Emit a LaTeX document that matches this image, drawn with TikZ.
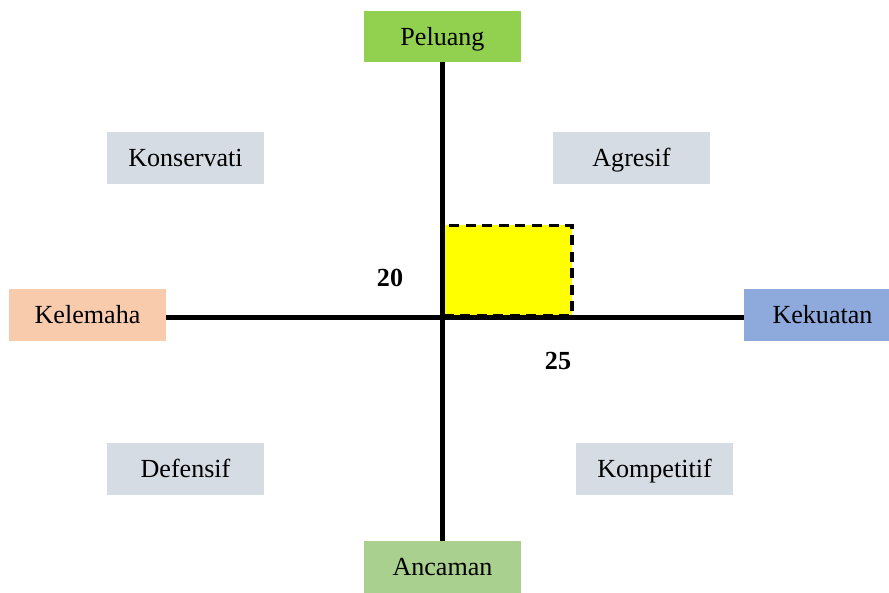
\documentclass[tikz,border=0pt]{standalone}
\usepackage{fontspec}
\setmainfont{Liberation Serif}
\usepackage{tikz}
\usetikzlibrary{positioning}
\definecolor{hijau}{HTML}{92D050}
\definecolor{hijaumuda}{HTML}{A9D08E}
\definecolor{oranye}{HTML}{F8CBAD}
\definecolor{biru}{HTML}{8EA9DB}
\definecolor{abu}{HTML}{D6DCE4}
\definecolor{kuning}{HTML}{FFFF00}

\begin{document}
\begin{tikzpicture}[
		x=0.46pt, y=-0.46pt,
		every node/.style={font=\fontsize{12}{14}\selectfont},
		kotak/.style = {rectangle, minimum width=72.2pt, minimum height=23.5pt, inner sep=0pt, text height=7.9pt, text depth=0pt, align=center},
		kuadran/.style = {kotak, fill=abu},
		area/.style = {draw, dash pattern=on 4.6pt off 3pt, line width=1.6pt, fill=kuning, minimum width=58.9pt, minimum height=41.4pt, inner sep=0pt},
		sumbu/.style = {draw, line width=2.3pt},
		angka/.style = {font=\fontsize{12}{14}\selectfont\bfseries}
	]
	\useasboundingbox (0,0) rectangle (889,592);

	% Nodos
	\coordinate (pusat) at (442,317);
	\node [kotak, fill=hijau] (peluang) at (442.5,36.5) {Peluang};
	\node [kotak, fill=hijaumuda] (ancaman) at (442.5,567) {Ancaman};
	\node [kotak, fill=oranye] (kelemahan) at (87.5,315) {Kelemaha};
	\node [kotak, fill=biru] (kekuatan) at (822.5,315) {Kekuatan};
	\node [kuadran] (konservatif) at (185.5,158) {Konservati};
	\node [kuadran] (agresif) at (631.5,158) {Agresif};
	\node [kuadran] (defensif) at (185.5,469) {Defensif};
	\node [kuadran] (kompetitif) at (654.5,469) {Kompetitif};
	\node [area, anchor=south west] (posisi) at (pusat) {};
	\node [angka] (nilaiy) at (390,278) {20};
	\node [angka] (nilaix) at (558,361) {25};
	% Líneas
	\draw [sumbu] (peluang.south) -- (ancaman.north);
	\draw [sumbu] (kelemahan.east |- pusat) -- (kekuatan.west |- pusat);
\end{tikzpicture}
\end{document}
